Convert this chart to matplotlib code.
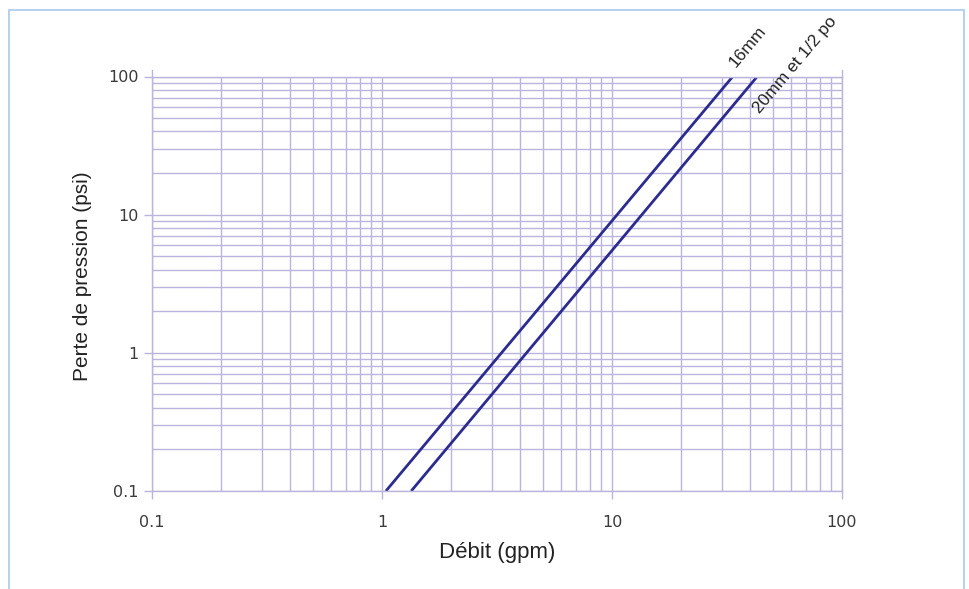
import numpy as np
import matplotlib
matplotlib.use("Agg")
from matplotlib import pyplot as plt
from matplotlib.patches import Rectangle
from matplotlib.ticker import LogLocator, FixedLocator, FixedFormatter, NullFormatter

# pressure loss curves (endpoints, log-log straight lines)
flow_16mm = [1.04, 33.5]
loss_16mm = [0.1, 100]
flow_20mm = [1.34, 42.8]
loss_20mm = [0.1, 100]

tick_vals = [0.1, 1, 10, 100]
tick_labels = ["0.1", "1", "10", "100"]

grid_col = "#b9b5dd"
line_col = "#2c2b90"
text_col = "#3a3a3a"

fig = plt.figure(figsize=(9.7, 5.89), dpi=100)
# light blue frame around the figure
fig.patches.append(Rectangle((9 / 970, -0.1), 955 / 970, 1.1 - 10 / 589,
                             transform=fig.transFigure, fill=False,
                             edgecolor="#a9c9ef", linewidth=1.2))

ax = fig.add_axes([152 / 970, 1 - 491 / 589, 690 / 970, 414.5 / 589])
ax.set_xscale("log")
ax.set_yscale("log")
ax.set_xlim(0.1, 100)
ax.set_ylim(0.1, 100)

ax.plot(flow_16mm, loss_16mm, color=line_col, lw=2, solid_capstyle="butt")
ax.plot(flow_20mm, loss_20mm, color=line_col, lw=2, solid_capstyle="butt")

for ticker_axis in (ax.xaxis, ax.yaxis):
    ticker_axis.set_major_locator(FixedLocator(tick_vals))
    ticker_axis.set_major_formatter(FixedFormatter(tick_labels))
    ticker_axis.set_minor_locator(LogLocator(base=10, subs=np.arange(2, 10)))
    ticker_axis.set_minor_formatter(NullFormatter())

ax.grid(True, which="both", color=grid_col, lw=1)
ax.tick_params(which="major", length=6, color=grid_col, width=1,
               labelsize=11.5, labelcolor=text_col)
ax.tick_params(axis="x", which="major", pad=11)
ax.tick_params(which="minor", length=0)
for s in ax.spines.values():
    s.set_color(grid_col)
    s.set_linewidth(1)
ax.set_axisbelow(True)

# short extensions of the side edges above the grid
for xa in (0, 1):
    ax.plot([xa, xa], [1, 1.015], transform=ax.transAxes, color=grid_col,
            lw=1, clip_on=False)

lab_font = "Liberation Sans"
ax.set_xlabel("Débit (gpm)", fontsize=16, family=lab_font, color="#222222", labelpad=9)
ax.set_ylabel("Perte de pression (psi)", fontsize=15, family=lab_font,
              color="#222222")
ax.yaxis.set_label_coords(-0.087, 0.519)

ax.annotate("16mm", xy=(flow_16mm[1], loss_16mm[1]), xytext=(3, 8),
            textcoords="offset pixels", rotation=50, rotation_mode="anchor",
            ha="left", va="baseline", fontsize=12.5, family=lab_font,
            color="#222222", annotation_clip=False)
ax.annotate("20mm et 1/2 po", xy=(flow_20mm[1], loss_20mm[1]), xytext=(2, -38),
            textcoords="offset pixels", rotation=50, rotation_mode="anchor",
            ha="left", va="baseline", fontsize=12.5, family=lab_font,
            color="#222222", annotation_clip=False)

fig.savefig("out.png", dpi=100)
